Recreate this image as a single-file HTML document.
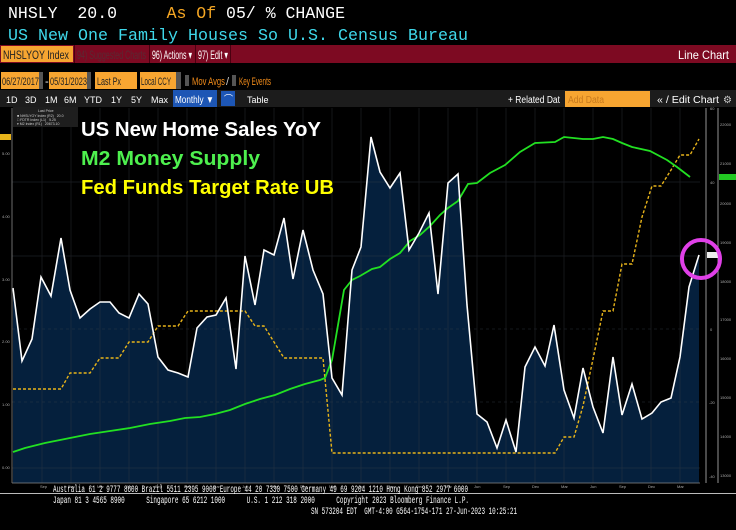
<!DOCTYPE html>
<html><head><meta charset="utf-8"><style>
html,body{margin:0;padding:0;background:#000;width:736px;height:530px;overflow:hidden}
svg{display:block}
text{white-space:pre}
.m{font-family:"Liberation Mono",monospace}
.s{font-family:"Liberation Sans",sans-serif}
</style></head><body>
<svg width="736" height="530" viewBox="0 0 736 530" xmlns="http://www.w3.org/2000/svg" xml:space="preserve">
<rect width="736" height="530" fill="#000"/>
<text x="8" y="18" class="m" font-size="16.5" fill="#fff" textLength="337" lengthAdjust="spacingAndGlyphs">NHSLY  20.0     <tspan fill="#f5a623">As Of</tspan> 05/ % CHANGE</text>
<text x="8" y="40" class="m" font-size="16.5" fill="#3fd8ea" textLength="460" lengthAdjust="spacingAndGlyphs">US New One Family Houses So U.S. Census Bureau</text>
<rect x="0" y="45" width="736" height="18" fill="#7d0a22"/>
<rect x="1" y="46" width="72" height="16" fill="#f7a531"/>
<text x="3" y="59" class="s" font-size="12" fill="#222" textLength="66" lengthAdjust="spacingAndGlyphs">NHSLYOY Index</text>
<rect x="74" y="45" width="1" height="18" fill="#4a0010"/>
<text x="77" y="59" class="s" font-size="12" fill="#5a2a33" textLength="69" lengthAdjust="spacingAndGlyphs">94) Suggested Charts</text>
<rect x="149" y="45" width="1" height="18" fill="#4a0010"/>
<rect x="195" y="45" width="1" height="18" fill="#4a0010"/>
<rect x="230" y="45" width="1" height="18" fill="#4a0010"/>
<text x="152" y="59" class="s" font-size="12" fill="#fff" textLength="40" lengthAdjust="spacingAndGlyphs">96) Actions ▾</text>
<text x="198" y="59" class="s" font-size="12" fill="#fff" textLength="30" lengthAdjust="spacingAndGlyphs">97) Edit ▾</text>
<text x="678" y="59" class="s" font-size="12" fill="#fff" textLength="51" lengthAdjust="spacingAndGlyphs">Line Chart</text>
<rect x="1" y="72" width="38" height="17" fill="#f7a531"/>
<rect x="39" y="72" width="4" height="17" fill="#555"/>
<text x="2" y="85" class="s" font-size="11" fill="#222" textLength="37" lengthAdjust="spacingAndGlyphs">06/27/2017</text>
<text x="45" y="85" class="s" font-size="11" fill="#fff">-</text>
<rect x="49" y="72" width="38" height="17" fill="#f7a531"/>
<rect x="87" y="72" width="4" height="17" fill="#555"/>
<text x="50" y="85" class="s" font-size="11" fill="#222" textLength="37" lengthAdjust="spacingAndGlyphs">05/31/2023</text>
<rect x="95" y="72" width="42" height="17" fill="#f7a531"/>
<text x="97" y="85" class="s" font-size="11" fill="#222" textLength="24" lengthAdjust="spacingAndGlyphs">Last Px</text>
<rect x="140" y="72" width="36" height="17" fill="#f7a531"/>
<rect x="176" y="72" width="5" height="17" fill="#555"/>
<text x="141" y="85" class="s" font-size="11" fill="#222" textLength="30" lengthAdjust="spacingAndGlyphs">Local CCY</text>
<rect x="185" y="75" width="4" height="11" fill="#555"/>
<text x="192" y="85" class="s" font-size="11" fill="#f28c1a" textLength="33" lengthAdjust="spacingAndGlyphs">Mov Avgs</text>
<text x="226" y="85" class="s" font-size="11" fill="#ccc">/</text>
<rect x="232" y="75" width="4" height="11" fill="#555"/>
<text x="239" y="85" class="s" font-size="11" fill="#f28c1a" textLength="32" lengthAdjust="spacingAndGlyphs">Key Events</text>
<rect x="0" y="90" width="736" height="17" fill="#1c1c1c"/>
<g class="s" font-size="9" fill="#fff">
<text x="6" y="103">1D</text><text x="25" y="103">3D</text><text x="45" y="103">1M</text><text x="64" y="103">6M</text><text x="84" y="103">YTD</text><text x="111" y="103">1Y</text><text x="131" y="103">5Y</text><text x="151" y="103">Max</text>
</g>
<rect x="173" y="90" width="44" height="17" fill="#1d56b5"/>
<text x="175" y="103" class="s" font-size="10" fill="#fff" textLength="39" lengthAdjust="spacingAndGlyphs">Monthly ▼</text>
<rect x="221" y="91" width="14" height="15" fill="#1d56b5"/>
<text x="224" y="102" class="s" font-size="9" fill="#fff">⌒</text>
<text x="247" y="103" class="s" font-size="9" fill="#fff">Table</text>
<text x="508" y="103" class="s" font-size="10" fill="#fff" textLength="52" lengthAdjust="spacingAndGlyphs">+ Related Dat</text>
<rect x="565" y="91" width="85" height="16" fill="#f7a531"/>
<text x="568" y="103" class="s" font-size="10" fill="#c77a1e" textLength="36" lengthAdjust="spacingAndGlyphs">Add Data</text>
<text x="657" y="103" class="s" font-size="10" fill="#fff" textLength="62" lengthAdjust="spacingAndGlyphs">« / Edit Chart</text>
<text x="723" y="103" class="s" font-size="10" fill="#ccc">⚙</text>

<rect x="12" y="108" width="688" height="375" fill="#000"/>
<polygon fill="#05203d" points="13,483 13,288 22,361 32,339 41,277 51,296 61,238 70,290 80,318 90,309 100,302 110,302 119,313 129,318 139,294 148,304 158,357 168,370 178,373 188,377 197,328 207,317 216,315 226,298 236,369 245,256 255,305 264,250 274,255 284,218 293,279 303,230 313,270 323,294 332,378 342,395 352,270 361,247 371,137 380,172 390,188 400,173 409,250 419,233 429,213 438,294 448,183 458,174 467,305 477,414 487,422 497,448 506,420 516,452 525,367 535,347 545,366 554,325 564,390 574,418 583,368 593,407 603,433 613,357 622,415 632,384 642,419 652,413 661,402 671,398 680,357 689,287 699,255 699,483"/>
<g stroke="#3a3f48" stroke-width="0.7" opacity="0.5">
<line x1="42" y1="108" x2="42" y2="483"/><line x1="71" y1="108" x2="71" y2="483"/><line x1="100" y1="108" x2="100" y2="483"/><line x1="129" y1="108" x2="129" y2="483"/><line x1="158" y1="108" x2="158" y2="483"/><line x1="187" y1="108" x2="187" y2="483"/><line x1="216" y1="108" x2="216" y2="483"/><line x1="245" y1="108" x2="245" y2="483"/><line x1="274" y1="108" x2="274" y2="483"/><line x1="303" y1="108" x2="303" y2="483"/><line x1="332" y1="108" x2="332" y2="483"/><line x1="361" y1="108" x2="361" y2="483"/><line x1="390" y1="108" x2="390" y2="483"/><line x1="419" y1="108" x2="419" y2="483"/><line x1="448" y1="108" x2="448" y2="483"/><line x1="477" y1="108" x2="477" y2="483"/><line x1="506" y1="108" x2="506" y2="483"/><line x1="535" y1="108" x2="535" y2="483"/><line x1="564" y1="108" x2="564" y2="483"/><line x1="593" y1="108" x2="593" y2="483"/><line x1="622" y1="108" x2="622" y2="483"/><line x1="651" y1="108" x2="651" y2="483"/><line x1="680" y1="108" x2="680" y2="483"/>
<line x1="12" y1="182" x2="700" y2="182"/><line x1="12" y1="256" x2="700" y2="256"/>
<line x1="12" y1="329" x2="700" y2="329" stroke-dasharray="3,3"/><line x1="12" y1="402" x2="700" y2="402" stroke-dasharray="3,3"/>
<line x1="12" y1="468" x2="700" y2="468"/>
</g>
<polyline fill="none" stroke="#e8b41a" stroke-width="1.4" stroke-dasharray="3,2" points="13,389 22,389 32,389 41,389 51,389 61,389 70,373 80,373 90,373 100,358 110,358 119,358 129,342 139,342 148,342 158,326 168,326 178,326 188,311 197,311 207,311 216,311 226,311 236,311 245,311 255,326 264,326 274,342 284,358 293,358 303,358 313,358 323,358 332,453 342,453 555,453 564,437 574,437 583,406 593,359 603,311 613,311 622,264 632,264 642,217 652,186 661,186 671,170 680,155 690,155 699,139"/>
<polyline fill="none" stroke="#22e022" stroke-width="1.8" points="13,452 25,448 45,443 60,440 75,437 90,434 110,431 130,428 150,424 170,421 185,418 200,417 215,414 230,410 245,404 260,399 275,395 290,389 305,384 320,380 325,378 332,360 344,290 352,280 360,276 372,269 380,267 390,259 400,253 410,241 420,235 430,226 440,215 448,208 458,201 468,184 477,183 490,173 505,165 520,152 535,143 555,142 564,137 583,139 593,139 603,137 613,139 622,143 632,147 650,151 667,160 677,167 690,177"/>
<polyline fill="none" stroke="#fff" stroke-width="1.6" points="13,288 22,361 32,339 41,277 51,296 61,238 70,290 80,318 90,309 100,302 110,302 119,313 129,318 139,294 148,304 158,357 168,370 178,373 188,377 197,328 207,317 216,315 226,298 236,369 245,256 255,305 264,250 274,255 284,218 293,279 303,230 313,270 323,294 332,378 342,395 352,270 361,247 371,137 380,172 390,188 400,173 409,250 419,233 429,213 438,294 448,183 458,174 467,305 477,414 487,422 497,448 506,420 516,452 525,367 535,347 545,366 554,325 564,390 574,418 583,368 593,407 603,433 613,357 622,415 632,384 642,419 652,413 661,402 671,398 680,357 689,287 699,255"/>
<line x1="12" y1="108" x2="12" y2="483" stroke="#888" stroke-width="0.8"/>
<line x1="12" y1="483" x2="700" y2="483" stroke="#888" stroke-width="0.8"/>
<line x1="706" y1="108" x2="706" y2="483" stroke="#bbb" stroke-width="0.8"/>
<line x1="718" y1="108" x2="718" y2="483" stroke="#bbb" stroke-width="0.8"/>
<g class="s" font-size="4" fill="#aaa">
<text x="2" y="155">5.00</text><text x="2" y="218">4.00</text><text x="2" y="281">3.00</text><text x="2" y="343">2.00</text><text x="2" y="406">1.00</text><text x="2" y="469">0.00</text>
<text x="710" y="110">60</text><text x="710" y="184">40</text><text x="710" y="331">0</text><text x="709" y="404">-20</text><text x="709" y="478">-40</text>
<text x="720" y="126">22000</text><text x="720" y="165">21000</text><text x="720" y="205">20000</text><text x="720" y="244">19000</text><text x="720" y="283">18000</text><text x="720" y="321">17000</text><text x="720" y="360">16000</text><text x="720" y="399">15000</text><text x="720" y="438">14000</text><text x="720" y="477">13000</text>
<text x="40" y="488">Sep</text><text x="68" y="488">Dec</text><text x="97" y="488">Mar</text><text x="126" y="488">Jun</text><text x="155" y="488">Sep</text><text x="184" y="488">Dec</text><text x="213" y="488">Mar</text><text x="242" y="488">Jun</text><text x="271" y="488">Sep</text><text x="300" y="488">Dec</text><text x="329" y="488">Mar</text><text x="358" y="488">Jun</text><text x="387" y="488">Sep</text><text x="416" y="488">Dec</text><text x="445" y="488">Mar</text><text x="474" y="488">Jun</text><text x="503" y="488">Sep</text><text x="532" y="488">Dec</text><text x="561" y="488">Mar</text><text x="590" y="488">Jun</text><text x="619" y="488">Sep</text><text x="648" y="488">Dec</text><text x="677" y="488">Mar</text>
</g>
<rect x="0" y="134" width="11" height="6" fill="#e8b41a"/>
<rect x="719" y="174" width="17" height="6" fill="#22c822"/>
<rect x="707" y="252" width="12" height="6" fill="#eee"/>
<circle cx="701" cy="259" r="19" fill="none" stroke="#e040e8" stroke-width="4"/>
<rect x="13" y="107" width="65" height="20" fill="#1e1e1e"/>
<g class="s" font-size="3.5" fill="#ccc"><text x="38" y="112">Last Price</text><text x="17" y="117">■ NHSLYOY Index (R2)   20.0</text><text x="17" y="121">□ FDTR Index (L1)   5.25</text><text x="17" y="125">▾ M2 Index (R1)   20673.10</text></g>
<g class="s" font-weight="bold" font-size="20">
<text x="81" y="136" fill="#fff" textLength="240" lengthAdjust="spacingAndGlyphs">US New Home Sales YoY</text>
<text x="81" y="165" fill="#4ef04e" textLength="179" lengthAdjust="spacingAndGlyphs">M2 Money Supply</text>
<text x="81" y="194" fill="#ffff00" textLength="253" lengthAdjust="spacingAndGlyphs">Fed Funds Target Rate UB</text>
</g>
<line x1="0" y1="493.5" x2="736" y2="493.5" stroke="#bbb" stroke-width="1"/>
<g class="m" font-size="10" fill="#fff">
<text x="53" y="492" textLength="415" lengthAdjust="spacingAndGlyphs">Australia 61 2 9777 8600 Brazil 5511 2395 9000 Europe 44 20 7330 7500 Germany 49 69 9204 1210 Hong Kong 852 2977 6000</text>
<text x="53" y="503" textLength="416" lengthAdjust="spacingAndGlyphs">Japan 81 3 4565 8900      Singapore 65 6212 1000      U.S. 1 212 318 2000      Copyright 2023 Bloomberg Finance L.P.</text>
<text x="311" y="514" textLength="206" lengthAdjust="spacingAndGlyphs">SN 573204 EDT  GMT-4:00 G564-1754-171 27-Jun-2023 10:25:21</text>
</g>
</svg>
</body></html>
